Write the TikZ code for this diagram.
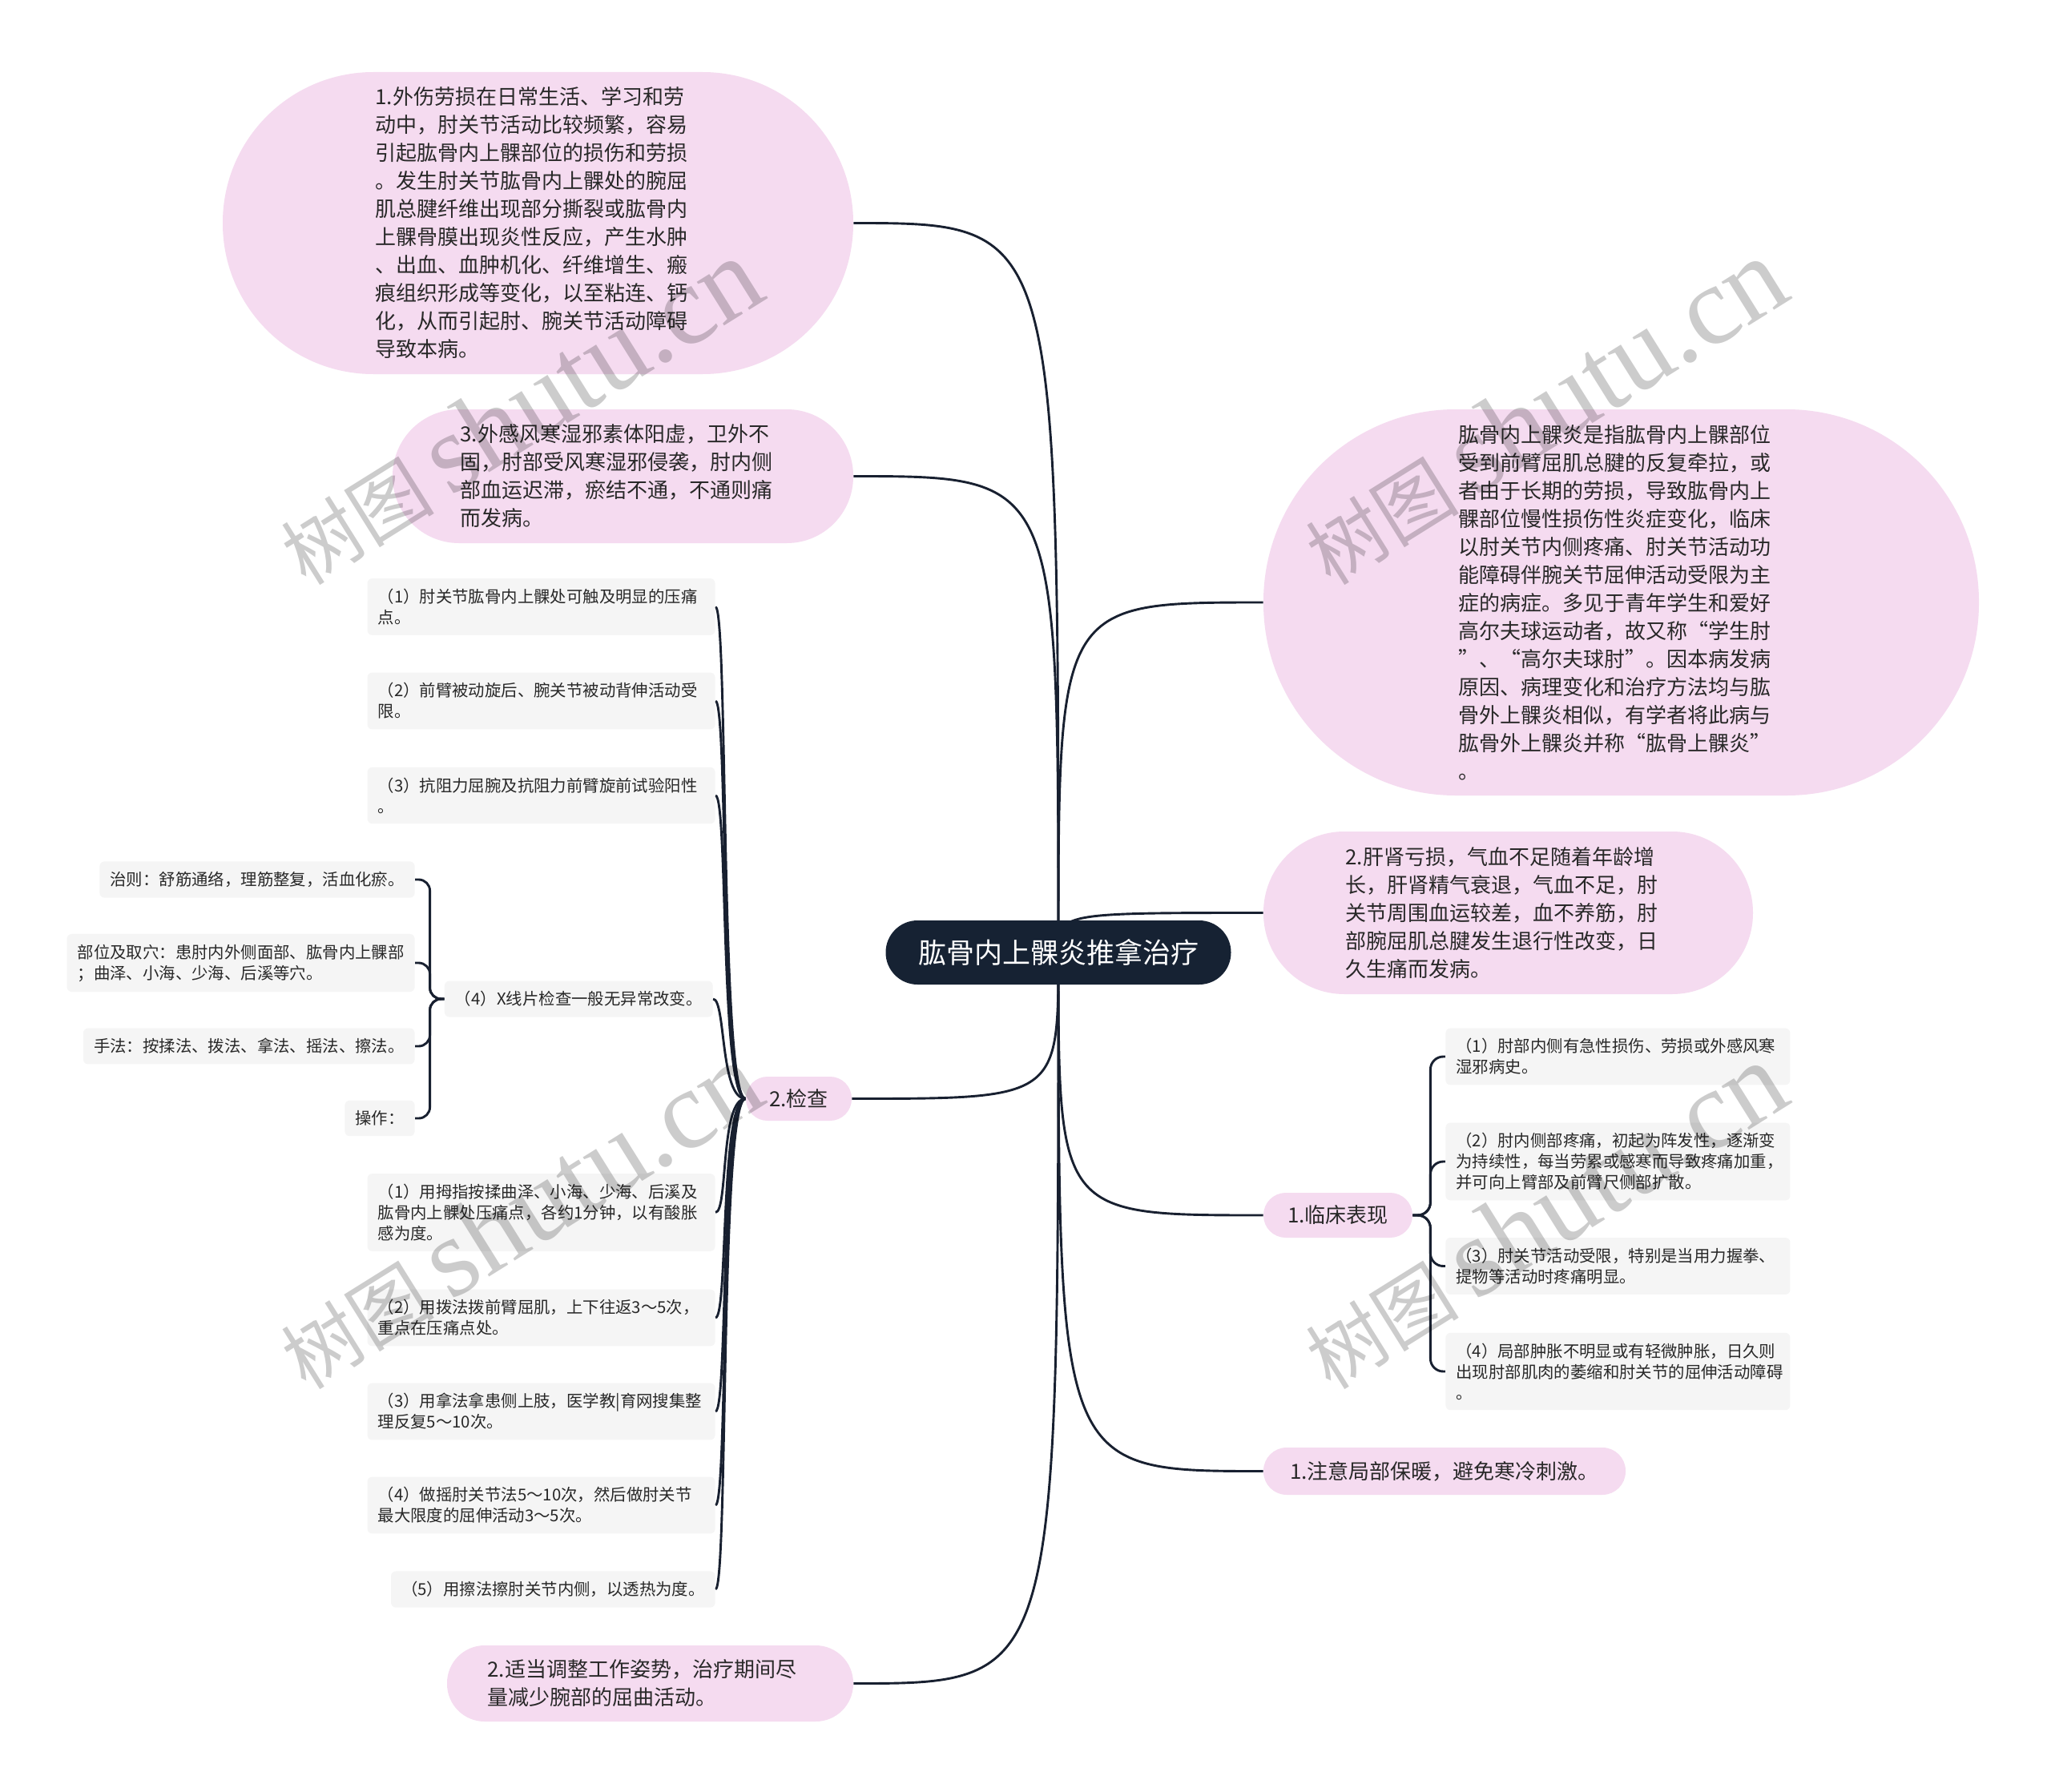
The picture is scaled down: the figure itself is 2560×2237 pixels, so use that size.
\documentclass[tikz,border=0pt]{standalone}
\usepackage{fontspec}
\setmainfont{Noto Sans CJK SC}
\newfontfamily\wmlat{Liberation Serif}
\usetikzlibrary{calc}
\definecolor{pinkfill}{RGB}{245,219,240}
\definecolor{grayfill}{RGB}{245,245,245}
\definecolor{navy}{RGB}{22,34,51}
\definecolor{linec}{RGB}{24,32,48}
\definecolor{txt}{RGB}{40,40,40}
\pgfdeclarelayer{back}\pgfdeclarelayer{bg}\pgfdeclarelayer{fg}
\pgfsetlayers{back,bg,main,fg}
\tikzset{
 bubble/.style={fill=pinkfill, inner sep=0pt, align=left, text=txt, font=\fontsize{13pt}{17.5pt}\selectfont},
 gbox/.style={fill=grayfill, rounded corners=3pt, inner xsep=6.5pt, inner ysep=6.4pt, align=left, text=txt, font=\fontsize{10.2pt}{13pt}\selectfont},
 conn/.style={draw=linec, line width=1.45pt},
 wmark/.style={rotate=32, text=black, opacity=0.2, inner sep=0pt}
}
\begin{document}
\begin{tikzpicture}[x=0.5pt,y=0.5pt]
\begin{pgfonlayer}{back}
\fill[white] (0,0) rectangle (2560,-2237);
\end{pgfonlayer}
\useasboundingbox (0,0) rectangle (2560,-2237);

% central node
\node[fill=navy, text=white, inner sep=0pt, rounded corners=19.9pt, minimum width=215.5pt, minimum height=40pt, font=\fontsize{17.5pt}{21pt}\selectfont] (ctr) at (1321,-1189) {肱骨内上髁炎推拿治疗};

% main bubbles
\node[bubble, text width=203pt, minimum width=393.5pt, minimum height=188.5pt, rounded corners=94pt] (A) at (671.5,-278.5) {1.外伤劳损在日常生活、学习和劳\\动中，肘关节活动比较频繁，容易\\引起肱骨内上髁部位的损伤和劳损\\。发生肘关节肱骨内上髁处的腕屈\\肌总腱纤维出现部分撕裂或肱骨内\\上髁骨膜出现炎性反应，产生水肿\\、出血、血肿机化、纤维增生、瘢\\痕组织形成等变化，以至粘连、钙\\化，从而引起肘、腕关节活动障碍\\导致本病。};
\node[bubble, text width=203pt, minimum width=287.5pt, minimum height=83.5pt, rounded corners=41.5pt] (B) at (777.5,-594.5) {3.外感风寒湿邪素体阳虚，卫外不\\固，肘部受风寒湿邪侵袭，肘内侧\\部血运迟滞，瘀结不通，不通则痛\\而发病。};
\node[bubble, text width=203pt, minimum width=446.5pt, minimum height=241pt, rounded corners=120pt] (C) at (2023.5,-752) {肱骨内上髁炎是指肱骨内上髁部位\\受到前臂屈肌总腱的反复牵拉，或\\者由于长期的劳损，导致肱骨内上\\髁部位慢性损伤性炎症变化，临床\\以肘关节内侧疼痛、肘关节活动功\\能障碍伴腕关节屈伸活动受限为主\\症的病症。多见于青年学生和爱好\\高尔夫球运动者，故又称“学生肘\\”、“高尔夫球肘”。因本病发病\\原因、病理变化和治疗方法均与肱\\骨外上髁炎相似，有学者将此病与\\肱骨外上髁炎并称“肱骨上髁炎”\\。};
\node[bubble, text width=203pt, minimum width=305.5pt, minimum height=101.5pt, rounded corners=50.5pt] (D) at (1882.5,-1139.5) {2.肝肾亏损，气血不足随着年龄增\\长，肝肾精气衰退，气血不足，肘\\关节周围血运较差，血不养筋，肘\\部腕屈肌总腱发生退行性改变，日\\久生痛而发病。};
\node[bubble, minimum width=66pt, minimum height=27.5pt, rounded corners=13.5pt] (jc) at (997,-1371.5) {2.检查};
\node[bubble, minimum width=93pt, minimum height=28pt, rounded corners=13.9pt] (lc) at (1670,-1517) {1.临床表现};
\node[bubble, minimum width=226pt, minimum height=29.5pt, rounded corners=14.5pt] (zy) at (1803,-1836.5) {1.注意局部保暖，避免寒冷刺激。};
\node[bubble, text width=203pt, minimum width=253.5pt, minimum height=47.5pt, rounded corners=23.5pt] (tz) at (811.5,-2101.5) {2.适当调整工作姿势，治疗期间尽\\量减少腕部的屈曲活动。};

% children of 2.检查
\node[gbox, text width=204pt, anchor=east] (g1) at (893,-757.5) {（1）肘关节肱骨内上髁处可触及明显的压痛\\点。};
\node[gbox, text width=204pt, anchor=east] (g2) at (893,-875) {（2）前臂被动旋后、腕关节被动背伸活动受\\限。};
\node[gbox, text width=204pt, anchor=east] (g3) at (893,-993) {（3）抗阻力屈腕及抗阻力前臂旋前试验阳性\\。};
\node[gbox, anchor=east] (g4) at (890,-1247) {（4）X线片检查一般无异常改变。};
\node[gbox, text width=204pt, anchor=east] (g5) at (893,-1513.5) {（1）用拇指按揉曲泽、小海、少海、后溪及\\肱骨内上髁处压痛点，各约1分钟，以有酸胀\\感为度。};
\node[gbox, text width=204pt, anchor=east] (g6) at (893,-1645) {（2）用拨法拨前臂屈肌，上下往返3～5次，\\重点在压痛点处。};
\node[gbox, text width=204pt, anchor=east] (g7) at (893,-1762) {（3）用拿法拿患侧上肢，医学教|育网搜集整\\理反复5～10次。};
\node[gbox, text width=204pt, anchor=east] (g8) at (893,-1879) {（4）做摇肘关节法5～10次，然后做肘关节\\最大限度的屈伸活动3～5次。};
\node[gbox, anchor=east] (g9) at (893,-1984) {（5）用擦法擦肘关节内侧，以透热为度。};

% children of (4)
\node[gbox, anchor=east] (s1) at (518,-1098) {治则：舒筋通络，理筋整复，活血化瘀。};
\node[gbox, anchor=east] (s2) at (518,-1202) {部位及取穴：患肘内外侧面部、肱骨内上髁部\\；曲泽、小海、少海、后溪等穴。};
\node[gbox, anchor=east] (s3) at (518,-1306) {手法：按揉法、拨法、拿法、摇法、擦法。};
\node[gbox, anchor=east] (s4) at (518,-1396) {操作：};

% children of 1.临床表现
\node[gbox, text width=202pt, anchor=west] (r1) at (1804,-1319) {（1）肘部内侧有急性损伤、劳损或外感风寒\\湿邪病史。};
\node[gbox, text width=202pt, anchor=west] (r2) at (1804,-1450) {（2）肘内侧部疼痛，初起为阵发性，逐渐变\\为持续性，每当劳累或感寒而导致疼痛加重，\\并可向上臂部及前臂尺侧部扩散。};
\node[gbox, text width=202pt, anchor=west] (r3) at (1804,-1580.5) {（3）肘关节活动受限，特别是当用力握拳、\\提物等活动时疼痛明显。};
\node[gbox, text width=202pt, anchor=west] (r4) at (1804,-1712) {（4）局部肿胀不明显或有轻微肿胀，日久则\\出现肘部肌肉的萎缩和肘关节的屈伸活动障碍\\。};

\coordinate (b4) at ($(g4.west)+(-9pt,0)$);
\coordinate (bl) at ($(lc.east)+(11pt,0)$);

\begin{pgfonlayer}{bg}
\foreach \t in {A,B,jc,tz}
  \draw[conn] (ctr.center) .. controls (ctr.center |- \t.east) .. (\t.east);
\foreach \t in {C,D,lc,zy}
  \draw[conn] (ctr.center) .. controls (ctr.center |- \t.west) .. (\t.west);
\foreach \t in {g1,g2,g3,g4,g5,g6,g7,g8,g9}
  \draw[conn] (jc.west) .. controls +(-16pt,0) and +(8pt,0) .. (\t.east);
\foreach \t in {s1,s2,s3,s4}
  \draw[conn, rounded corners=7pt] (g4.west) -- (b4) |- (\t.east);
\foreach \t in {r1,r2,r3,r4}
  \draw[conn, rounded corners=8pt] (lc.east) -- (bl) |- (\t.west);
\end{pgfonlayer}

\begin{pgfonlayer}{fg}
\foreach \p/\n in {{(648,-514)}/wa,{(1927,-514)}/wb,{(648,-1518)}/wc,{(1927,-1518)}/wd}
  \node[wmark] (\n) at \p {\fontsize{48pt}{48pt}\selectfont 树图\hspace{10pt}{\wmlat\fontsize{70pt}{70pt}\selectfont shutu.cn}};
\end{pgfonlayer}
\end{tikzpicture}
\end{document}
